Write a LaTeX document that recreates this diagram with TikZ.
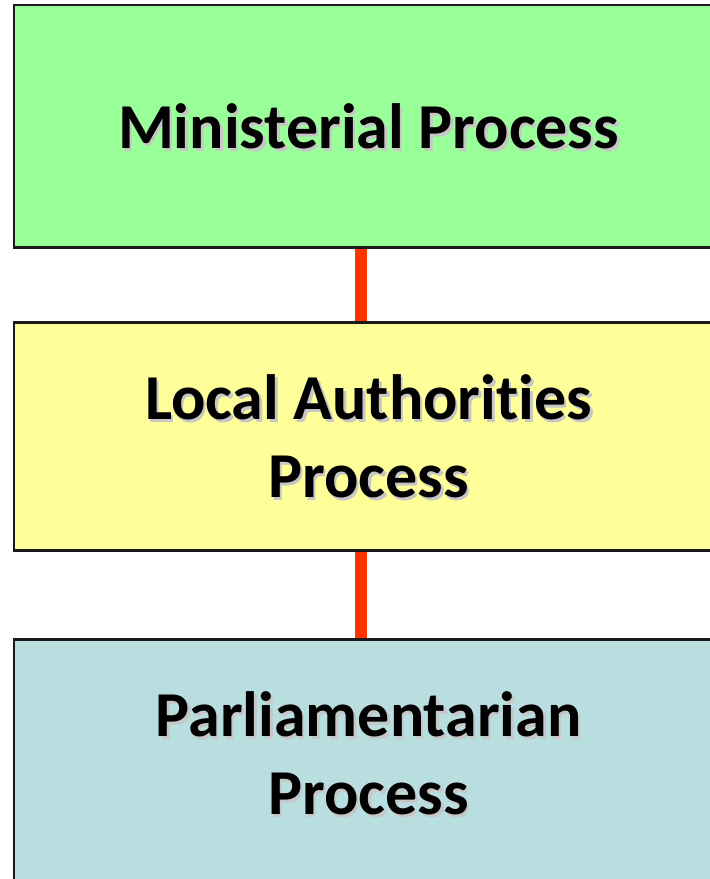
\documentclass[tikz,border=0pt]{standalone}
\usepackage{fontspec}
\setmainfont{Carlito}[Ligatures=CommonOff]
\begin{document}
\begin{tikzpicture}[x=1pt,y=1pt,
  boxstyle/.style={draw=black!90, line width=2.2pt},
  link/.style={draw={rgb,255:red,255;green,51;blue,0}, line width=12pt},
  label/.style={font=\fontsize{64}{78}\selectfont\bfseries, align=center, text=black},
  shadowlabel/.style={font=\fontsize{64}{78}\selectfont\bfseries, align=center, text=black!22}]
\definecolor{gboxfill}{RGB}{153,255,153}
\definecolor{yboxfill}{RGB}{255,255,153}
\definecolor{bboxfill}{RGB}{185,222,224}
\useasboundingbox (0,0) rectangle (710,879);
\begin{scope}
\clip (0,0) rectangle (710,879);
\coordinate (cx) at (361,0);
\path (13,631) coordinate (b1sw);
\path (13,328) coordinate (b2sw);
\path (13,-12) coordinate (b3sw);
\node[boxstyle, fill=gboxfill, inner sep=0pt, minimum width=711pt, minimum height=242pt, anchor=south west] (b1) at (b1sw) {};
\node[boxstyle, fill=yboxfill, inner sep=0pt, minimum width=711pt, minimum height=227pt, anchor=south west] (b2) at (b2sw) {};
\node[boxstyle, fill=bboxfill, inner sep=0pt, minimum width=711pt, minimum height=250pt, anchor=south west] (b3) at (b3sw) {};
\draw[link] (b1.south -| cx) -- (b2.north -| cx);
\draw[link] (b2.south -| cx) -- (b3.north -| cx);
\draw[boxstyle] (b1.south west) -- (b1.south east);
\draw[boxstyle] (b2.north west) -- (b2.north east);
\draw[boxstyle] (b2.south west) -- (b2.south east);
\draw[boxstyle] (b3.north west) -- (b3.north east);
\node[shadowlabel] (s1) at (371,750) {Ministerial Process};
\node[label] (t1) at (368.5,752.5) {Ministerial Process};
\node[shadowlabel] (s2) at (371,440) {Local Authorities\\Process};
\node[label] (t2) at (368.5,442.5) {Local Authorities\\Process};
\node[shadowlabel] (s3) at (371,123) {Parliamentarian\\Process};
\node[label] (t3) at (368.5,125.5) {Parliamentarian\\Process};
\end{scope}
\end{tikzpicture}
\end{document}
